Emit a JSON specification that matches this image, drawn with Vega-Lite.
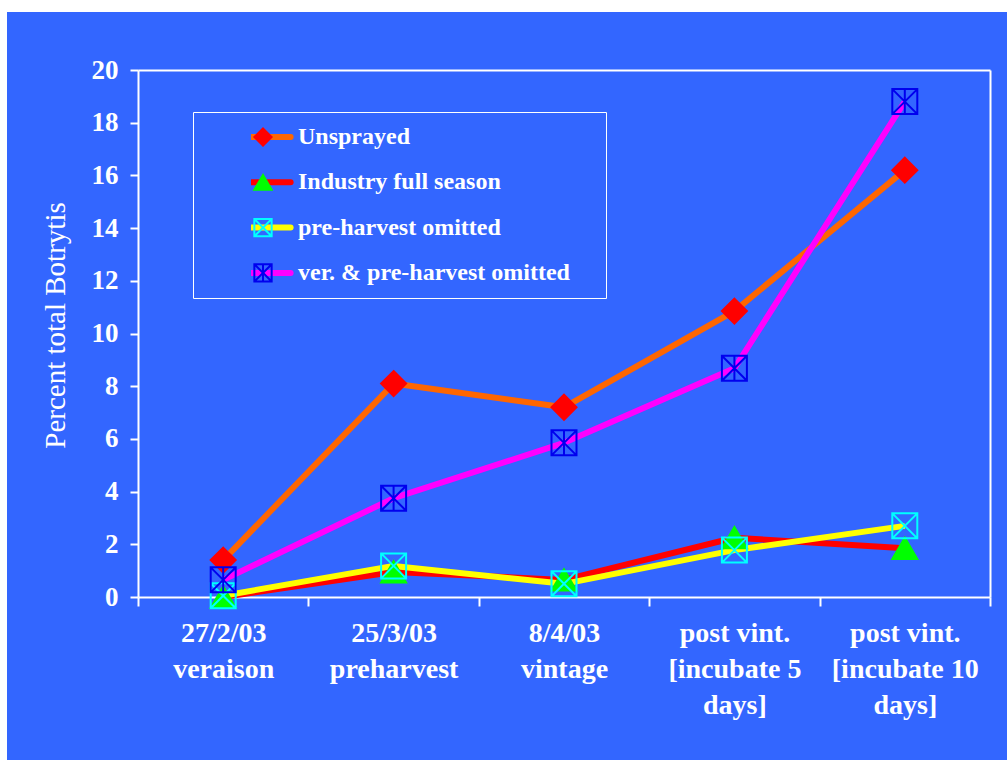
{
  "$schema": "https://vega.github.io/schema/vega-lite/v6.json",
  "width": 1000,
  "height": 748,
  "autosize": {"type": "none"},
  "padding": {"left": 7, "top": 12, "right": 0, "bottom": 0},
  "background": "white",
  "config": {
    "view": {"fill": "#3366FF", "stroke": null},
    "font": "Liberation Serif"
  },
  "data": {
    "values": [
      {"date": "27/2/03|veraison", "series": "Unsprayed", "m": "Unsprayed", "value": 1.4},
      {"date": "25/3/03|preharvest", "series": "Unsprayed", "m": "Unsprayed", "value": 8.1},
      {"date": "8/4/03|vintage", "series": "Unsprayed", "m": "Unsprayed", "value": 7.2},
      {"date": "post vint.|[incubate 5|days]", "series": "Unsprayed", "m": "Unsprayed", "value": 10.85},
      {"date": "post vint.|[incubate 10|days]", "series": "Unsprayed", "m": "Unsprayed", "value": 16.2},
      {"date": "27/2/03|veraison", "series": "Industry full season", "m": "Industry full season", "value": 0},
      {"date": "25/3/03|preharvest", "series": "Industry full season", "m": "Industry full season", "value": 0.95},
      {"date": "8/4/03|vintage", "series": "Industry full season", "m": "Industry full season", "value": 0.65},
      {"date": "post vint.|[incubate 5|days]", "series": "Industry full season", "m": "Industry full season", "value": 2.25},
      {"date": "post vint.|[incubate 10|days]", "series": "Industry full season", "m": "Industry full season", "value": 1.85},
      {"date": "27/2/03|veraison", "series": "pre-harvest omitted", "m": "pre-harvest omitted", "value": 0.05},
      {"date": "25/3/03|preharvest", "series": "pre-harvest omitted", "m": "pre-harvest omitted", "value": 1.18},
      {"date": "8/4/03|vintage", "series": "pre-harvest omitted", "m": "pre-harvest omitted", "value": 0.5},
      {"date": "post vint.|[incubate 5|days]", "series": "pre-harvest omitted", "m": "pre-harvest omitted", "value": 1.78},
      {"date": "post vint.|[incubate 10|days]", "series": "pre-harvest omitted", "m": "pre-harvest omitted", "value": 2.7},
      {"date": "27/2/03|veraison", "series": "ver. & pre-harvest omitted", "m": "ver. & pre-harvest omitted", "value": 0.65},
      {"date": "25/3/03|preharvest", "series": "ver. & pre-harvest omitted", "m": "ver. & pre-harvest omitted", "value": 3.75},
      {"date": "8/4/03|vintage", "series": "ver. & pre-harvest omitted", "m": "ver. & pre-harvest omitted", "value": 5.85},
      {"date": "post vint.|[incubate 5|days]", "series": "ver. & pre-harvest omitted", "m": "ver. & pre-harvest omitted", "value": 8.68},
      {"date": "post vint.|[incubate 10|days]", "series": "ver. & pre-harvest omitted", "m": "ver. & pre-harvest omitted", "value": 18.8}
    ]
  },
  "resolve": {"axis": {"x": "independent", "y": "independent"}},
  "layer": [
    {
      "mark": {"type": "line", "strokeWidth": 6, "strokeJoin": "round"},
      "encoding": {
        "x": {
          "field": "date",
          "type": "nominal",
          "sort": ["27/2/03|veraison", "25/3/03|preharvest", "8/4/03|vintage", "post vint.|[incubate 5|days]", "post vint.|[incubate 10|days]"],
          "scale": {"range": [131, 983], "paddingInner": 0, "paddingOuter": 0},
          "axis": {
            "orient": "bottom",
            "offset": -163,
            "title": null,
            "labelExpr": "split(datum.label, '|')",
            "labelFont": "Liberation Serif",
            "labelFontSize": 28,
            "labelFontWeight": "bold",
            "labelColor": "white",
            "labelAngle": 0,
            "labelLineHeight": 36,
            "labelPadding": 13,
            "labelLimit": 400,
            "labelOverlap": false,
            "tickBand": "extent",
            "tickColor": "white",
            "tickSize": 9,
            "tickWidth": 2,
            "domainColor": "white",
            "domainWidth": 2,
            "grid": false
          }
        },
        "y": {
          "field": "value",
          "type": "quantitative",
          "scale": {"domain": [0, 20], "range": [585, 58], "nice": false, "zero": true},
          "axis": {
            "orient": "left",
            "offset": -131,
            "values": [0, 2, 4, 6, 8, 10, 12, 14, 16, 18, 20],
            "grid": false,
            "labelFont": "Liberation Serif",
            "labelFontSize": 27,
            "labelFontWeight": "bold",
            "labelColor": "white",
            "labelPadding": 12,
            "tickColor": "white",
            "tickSize": 8,
            "tickWidth": 2,
            "domainColor": "white",
            "domainWidth": 2,
            "title": "Percent total Botrytis",
            "titleFont": "Liberation Serif",
            "titleFontSize": 29,
            "titleFontWeight": "normal",
            "titleColor": "white",
            "titleAngle": -90,
            "titleX": -83,
            "titleY": 313,
            "titleAlign": "center",
            "titleBaseline": "middle"
          }
        },
        "color": {
          "field": "series",
          "type": "nominal",
          "sort": null,
          "scale": {"range": ["#FF6600", "#FF0000", "#FFFF00", "#FF00FF"]},
          "legend": {
            "orient": "none",
            "legendX": 244,
            "legendY": 113,
            "direction": "vertical",
            "title": null,
            "padding": 0,
            "symbolType": "M-3.45,0H3.45",
            "symbolSize": 256,
            "symbolStrokeWidth": 6,
            "clipHeight": 24,
            "rowPadding": 21.3,
            "labelOffset": 23,
            "labelFont": "Liberation Serif",
            "labelFontSize": 24,
            "labelFontWeight": "bold",
            "labelColor": "white",
            "labelLimit": 500,
            "zindex": 0,
            "encode": {
              "symbols": {"update": {"fill": {"value": "transparent"}, "strokeCap": {"value": "round"}}}
            }
          }
        }
      }
    },
    {
      "mark": {"type": "point", "size": 625, "strokeWidth": 2, "opacity": 1},
      "encoding": {
        "x": {
          "field": "date",
          "type": "nominal",
          "sort": ["27/2/03|veraison", "25/3/03|preharvest", "8/4/03|vintage", "post vint.|[incubate 5|days]", "post vint.|[incubate 10|days]"],
          "axis": {
            "orient": "top",
            "offset": -58,
            "title": null,
            "labels": false,
            "ticks": false,
            "grid": false,
            "domainColor": "white",
            "domainWidth": 2
          }
        },
        "y": {
          "field": "value",
          "type": "quantitative",
          "axis": {
            "orient": "right",
            "offset": -17,
            "grid": false,
            "domainColor": "white",
            "domainWidth": 2,
            "ticks": false,
            "labels": false,
            "title": null
          }
        },
        "shape": {
          "field": "m",
          "type": "nominal",
          "sort": null,
          "scale": {
            "range": [
              "M0,-1L1,0L0,1L-1,0Z",
              "M0,-0.85L1,0.85L-1,0.85Z",
              "M-1,-1H1V1H-1ZM-1,-1L1,1M1,-1L-1,1",
              "M-1,-1H1V1H-1ZM-1,-1L1,1M1,-1L-1,1M0,-1V1"
            ]
          },
          "legend": {
            "orient": "none",
            "legendX": 186,
            "legendY": 100,
            "direction": "vertical",
            "title": ".",
            "titleOrient": "right",
            "titleOpacity": 0,
            "titleFontSize": 10,
            "titlePadding": 317,
            "padding": 13,
            "strokeColor": "white",
            "symbolSize": 300,
            "symbolStrokeWidth": 2,
            "symbolOpacity": 1,
            "symbolOffset": 47,
            "clipHeight": 24,
            "rowPadding": 21.3,
            "labelOffset": 0,
            "labelExpr": "''",
            "labelFontSize": 1,
            "labelOpacity": 0,
            "zindex": 1,
            "encode": {"legend": {"update": {"strokeWidth": {"value": 1.5}}}}
          }
        },
        "fill": {
          "field": "m",
          "type": "nominal",
          "sort": null,
          "scale": {"range": ["#FF0000", "#00FF00", "transparent", "transparent"]}
        },
        "stroke": {
          "field": "m",
          "type": "nominal",
          "sort": null,
          "scale": {"range": ["#FF0000", "#00FF00", "#00FFFF", "#0000EE"]}
        }
      }
    }
  ]
}
